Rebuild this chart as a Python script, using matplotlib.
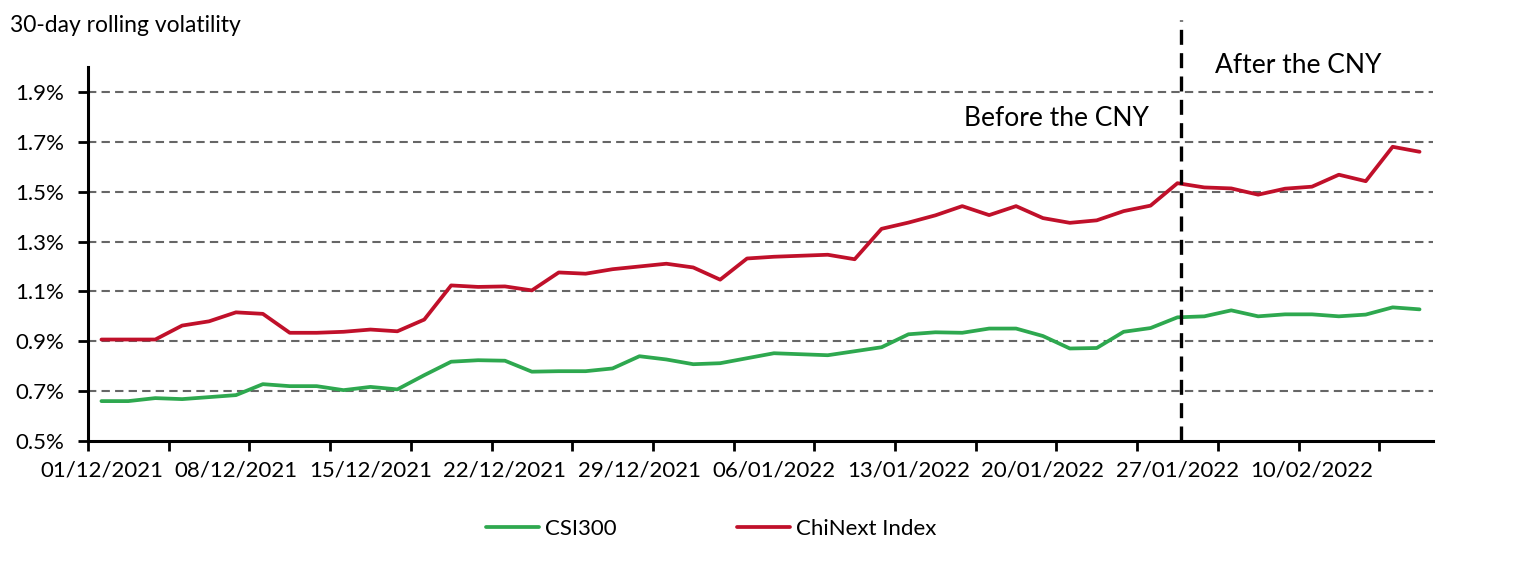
import matplotlib
matplotlib.use("Agg")
import matplotlib.pyplot as plt
import numpy as np

plt.rcParams['font.family'] = ['Lato', 'DejaVu Sans']

# ---- data (30-day rolling volatility, %) ----
csi300 = [0.660, 0.660, 0.672, 0.668, 0.676, 0.684, 0.728, 0.720, 0.720, 0.704,
          0.717, 0.707, 0.764, 0.818, 0.824, 0.822, 0.778, 0.780, 0.780, 0.791,
          0.840, 0.827, 0.808, 0.812, 0.832, 0.852, 0.848, 0.844, 0.860, 0.876,
          0.928, 0.936, 0.934, 0.951, 0.951, 0.921, 0.871, 0.873, 0.938, 0.953,
          0.996, 1.000, 1.024, 1.000, 1.008, 1.008, 1.000, 1.007, 1.036, 1.028]
chinext = [0.907, 0.907, 0.907, 0.963, 0.980, 1.016, 1.010, 0.934, 0.934, 0.938,
           0.947, 0.940, 0.987, 1.124, 1.118, 1.120, 1.104, 1.176, 1.171, 1.189,
           1.200, 1.211, 1.196, 1.147, 1.232, 1.239, 1.243, 1.247, 1.229, 1.351,
           1.376, 1.405, 1.442, 1.406, 1.442, 1.394, 1.375, 1.385, 1.422, 1.444,
           1.534, 1.517, 1.513, 1.488, 1.512, 1.520, 1.568, 1.542, 1.680, 1.660]
tick_labels = ['01/12/2021', '08/12/2021', '15/12/2021', '22/12/2021', '29/12/2021',
               '06/01/2022', '13/01/2022', '20/01/2022', '27/01/2022', '10/02/2022']
series_names = ['CSI300', 'ChiNext Index']
cny_break = 40.15

GREEN = '#2EA84F'
RED = '#C0102A'

fig = plt.figure(figsize=(15.16, 5.69), dpi=100)
ax = fig.add_axes([88/1516, 1-441/569, (1433-88)/1516, (441-67)/569])

x = np.arange(len(csi300))
ax.plot(x, csi300, color=GREEN, lw=2.7, label=series_names[0], solid_capstyle='round', zorder=3)
ax.plot(x, chinext, color=RED, lw=2.7, label=series_names[1], solid_capstyle='round', zorder=3)

ax.set_xlim(-0.5, len(csi300) - 0.5)
ax.set_ylim(0.5, 2.0)

# y axis
yt = np.arange(0.5, 1.95, 0.2)
ax.set_yticks(yt)
ax.set_yticklabels([f'{v:.1f}%' for v in yt])
for v in yt[1:]:
    ax.axhline(v, color='#666666', lw=1.5, ls=(0, (4, 2.5)), zorder=1)

# x axis: tick marks every 3 categories, labels every 5
ax.set_xticks(np.arange(-0.5, len(csi300), 3))
ax.set_xticklabels([])
ax.set_xticks(np.arange(0, len(csi300), 5), minor=True)
ax.set_xticklabels(tick_labels, minor=True)
ax.tick_params(axis='x', which='major', length=7, width=2, direction='out')
ax.tick_params(axis='x', which='minor', length=0, pad=14, labelsize=16)
ax.tick_params(axis='y', length=7, width=2, direction='out', pad=10, labelsize=16)

for s in ['top', 'right']:
    ax.spines[s].set_visible(False)
for s in ['left', 'bottom']:
    ax.spines[s].set_linewidth(2.2)

# CNY divider
ax.plot([cny_break, cny_break], [0.5, 2.19], color='black', lw=2.4,
        ls=(0, (4.5, 2.5)), clip_on=False, zorder=4)
ax.text(35.5, 1.795, 'Before the CNY', fontsize=19, ha='center', va='center')
ax.text(44.5, 2.007, 'After the CNY', fontsize=19, ha='center', va='center')

fig.text(10/1516, 1-25/569, '30-day rolling volatility', fontsize=16.5, ha='left', va='center')

leg = fig.legend(loc='center', bbox_to_anchor=(711/1516, 1-529/569), ncol=2, frameon=False,
                 fontsize=16, handlelength=2.4, handletextpad=0.25, columnspacing=5.4,
                 borderpad=0, borderaxespad=0)

fig.savefig('out.png', dpi=100)
